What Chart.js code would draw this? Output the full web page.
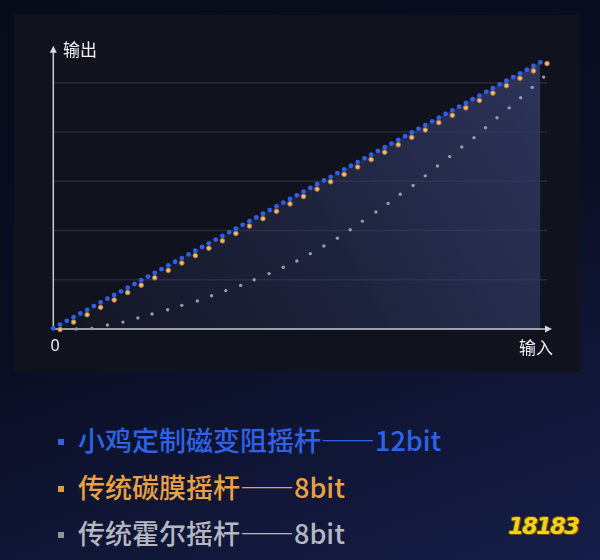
<!DOCTYPE html>
<html lang="zh">
<head>
<meta charset="UTF-8" />
<title>摇杆精度</title>
<script src="https://cdn.jsdelivr.net/npm/chart.js"></script>
<style>
  html, body { margin: 0; padding: 0; }
  body {
    width: 600px; height: 560px; position: relative; overflow: hidden;
    background: linear-gradient(160deg, #080b18 0%, #0a0e22 45%, #161d48 100%);
    font-family: "Noto Sans CJK SC", "Noto Sans", sans-serif;
  }
  #panel { position: absolute; left: 14px; top: 15px; width: 566px; height: 357px; background: #10131e; }
  #wrap { position: absolute; left: 0; top: 0; width: 600px; height: 380px; }
  .leg { position: absolute; left: 58px; font-size: 27px; line-height: 34px; white-space: nowrap; font-weight: 500; }
  .leg i { display: inline-block; width: 6px; height: 6px; margin-right: 14px; vertical-align: middle; position: relative; top: -2px; }
  #logo { position: absolute; left: 508px; top: 513px; font: bold italic 23px "DejaVu Sans", sans-serif; color: #f2d21a;
          text-shadow: 1px 1px 0 #6b4a00, -1px -1px 0 #6b4a00; letter-spacing: -2px; }
</style>
</head>
<body>
<div id="panel"></div>
<div id="wrap"><canvas id="myChart"></canvas></div>
<div class="leg" style="top:423px;color:#2f63e6"><i style="background:#3a62d8"></i>小鸡定制磁变阻摇杆——12bit</div>
<div class="leg" style="top:470px;color:#eba043"><i style="background:#e09a48"></i>传统碳膜摇杆——8bit</div>
<div class="leg" style="top:516px;color:#b4b7c0"><i style="background:#8e929c"></i>传统霍尔摇杆——8bit</div>
<div id="logo">18183</div>
<script>
// input steps / output values
const blueIn = [0,1,2,3,4,5,6,7,8,9,10,11,12,13,14,15,16,17,18,19,20,21,22,23,24,25,26,27,28,29,30,31,32,33,34,35,
  36,37,38,39,40,41,42,43,44,45,46,47,48,49,50,51,52,53,54,55,56,57,58,59,60,61,62,63,64,65,66,67,68,69,70,71,72];
const blueOut = [0.3,1.8,3.3,4.8,6.3,7.8,9.3,10.8,12.3,13.8,15.3,16.8,18.3,19.8,21.3,22.8,24.3,25.8,27.3,28.8,30.3,31.8,
  33.3,34.8,36.3,37.8,39.3,40.8,42.3,43.8,45.3,46.8,48.3,49.8,51.3,52.8,54.3,55.8,57.3,58.8,60.3,61.8,63.3,64.8,66.3,
  67.8,69.3,70.8,72.3,73.8,75.3,76.8,78.3,79.8,81.3,82.8,84.3,85.8,87.3,88.8,90.3,91.8,93.3,94.8,96.3,97.8,99.3,100.8,
  102.3,103.8,105.3,106.8,108.3];

const orangeIn = [1,3,5,7,9,11,13,15,17,19,21,23,25,27,29,31,33,35,37,39,41,43,45,47,49,51,53,55,57,59,61,63,65,67,69,71,73];
const orangeOut = [-0.2,2.8,5.8,8.8,11.8,14.8,17.8,20.8,23.8,26.8,29.8,32.8,35.8,38.8,41.8,44.8,47.8,50.8,53.8,56.8,
  59.8,62.8,65.8,68.8,71.8,74.8,77.8,80.8,83.8,86.8,89.8,92.8,95.8,98.8,101.8,104.8,107.8];

const grayIn = [1.1,3.4,5.7,8.0,10.3,12.5,14.6,16.9,19.0,21.3,23.4,25.5,27.7,29.7,31.9,34.0,36.0,38.0,40.0,42.0,43.9,
  45.7,47.7,49.5,51.3,53.2,55.0,56.8,58.6,60.4,62.2,63.9,65.6,67.4,69.1,70.8,72.5];
const grayOut = [0,0,0.2,1.6,2.8,4.5,6.1,7.8,9.6,11.4,13.5,15.6,17.7,20.0,22.5,25.1,27.6,30.6,33.7,36.9,40.3,43.8,
  47.5,51.0,54.7,58.3,62.2,66.2,70.0,73.9,77.7,81.7,85.8,89.8,93.9,98.1,102.3];

const gridValues = [20, 40, 60, 80, 100];

const pts = (xs, ys) => xs.map((x, i) => ({ x: x, y: ys[i] }));

const decor = {
  id: 'decor',
  beforeDraw(chart) {
    const c = chart.ctx, xs = chart.scales.x, ys = chart.scales.y;
    c.save();
    c.strokeStyle = '#262b3b';
    c.lineWidth = 1.6;
    gridValues.forEach(v => {
      const y = ys.getPixelForValue(v);
      c.beginPath();
      c.moveTo(xs.getPixelForValue(0), y);
      c.lineTo(xs.getPixelForValue(73), y);
      c.stroke();
    });
    c.restore();
  },
  beforeDatasetsDraw(chart) {
    const c = chart.ctx, xs = chart.scales.x, ys = chart.scales.y;
    const x0 = xs.getPixelForValue(0), y0 = ys.getPixelForValue(0);
    const top = chart.chartArea.top, right = 552;
    c.save();
    c.strokeStyle = '#c9cbd2';
    c.fillStyle = '#d6d8de';
    c.lineWidth = 1.5;
    c.beginPath();
    c.moveTo(x0, y0); c.lineTo(x0, top + 4);
    c.moveTo(x0, y0); c.lineTo(right - 4, y0);
    c.stroke();
    c.beginPath();
    c.moveTo(x0, top); c.lineTo(x0 - 3.5, top + 7); c.lineTo(x0 + 3.5, top + 7); c.closePath(); c.fill();
    c.beginPath();
    c.moveTo(right, y0); c.lineTo(right - 7, y0 - 3.5); c.lineTo(right - 7, y0 + 3.5); c.closePath(); c.fill();
    c.restore();
  },
  afterDraw(chart) {
    const c = chart.ctx;
    c.save();
    c.fillStyle = '#f2f2f4';
    c.textBaseline = 'middle';
    c.font = '17px "Noto Sans CJK SC"';
    c.textAlign = 'left';
    c.fillText('输出', 63, 50);
    c.textAlign = 'right';
    c.fillText('输入', 553, 348);
    c.font = '16px "Noto Sans", sans-serif';
    c.textAlign = 'center';
    c.fillText('0', 55, 346);
    c.restore();
  }
};

const config = {
  type: 'scatter',
  data: {
    datasets: [
      {
        label: '小鸡定制磁变阻摇杆——12bit',
        data: pts(blueIn, blueOut),
        showLine: true,
        borderWidth: 0,
        borderColor: 'rgba(0,0,0,0)',
        fill: 'origin',
        backgroundColor: (ctx) => {
          const a = ctx.chart.chartArea;
          if (!a) return 'rgba(40,47,80,0.5)';
          const g = ctx.chart.ctx.createLinearGradient(a.left, a.bottom, a.right, a.top);
          g.addColorStop(0, 'rgba(44,52,92,0.1)');
          g.addColorStop(1, 'rgba(52,60,104,0.85)');
          return g;
        },
        pointRadius: 2.4,
        pointBorderWidth: 0,
        pointBackgroundColor: '#2f5fe6',
        clip: false
      },
      {
        label: '传统碳膜摇杆——8bit',
        data: pts(orangeIn, orangeOut),
        pointRadius: 2.3,
        pointBorderWidth: 1,
        pointBorderColor: '#b27a38',
        pointBackgroundColor: '#e9be7c',
        clip: false
      },
      {
        label: '传统霍尔摇杆——8bit',
        data: pts(grayIn, grayOut),
        pointRadius: 1.7,
        pointBorderWidth: 0,
        pointBackgroundColor: '#989ca7',
        clip: false
      }
    ]
  },
  options: {
    responsive: true,
    maintainAspectRatio: false,
    animation: false,
    layout: { padding: { left: 53.3, right: 46.2, top: 45.8, bottom: 51 } },
    scales: {
      x: { type: 'linear', min: 0, max: 74, display: false },
      y: { type: 'linear', min: 0, max: 115, display: false }
    },
    plugins: {
      legend: { display: false },
      tooltip: { enabled: false },
      filler: { drawTime: 'beforeDatasetsDraw' }
    }
  },
  plugins: [decor]
};

var myChart = new Chart(document.getElementById('myChart'), config);
</script>
</body>
</html>
